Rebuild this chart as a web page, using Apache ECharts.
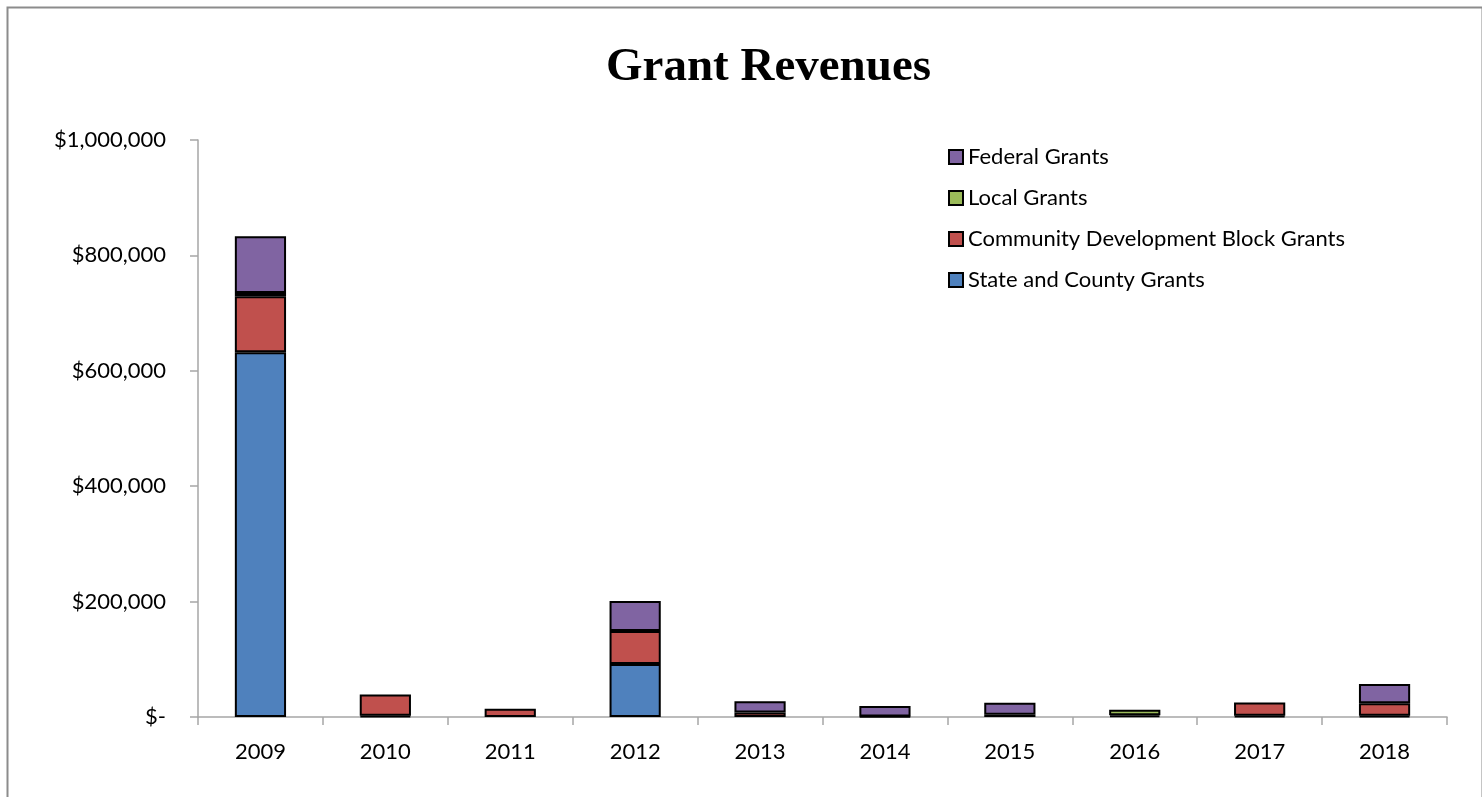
<!DOCTYPE html>
<html>
<head>
<meta charset="utf-8">
<script src="https://cdn.jsdelivr.net/npm/echarts@6/dist/echarts.min.js"></script>
<style>
  html, body { margin: 0; padding: 0; background: #fff; }
  #chart { width: 1482px; height: 797px; }
</style>
</head>
<body>
<div id="chart"></div>
<script>
// Fiscal years on the category axis
const years = ['2009', '2010', '2011', '2012', '2013', '2014', '2015', '2016', '2017', '2018'];

// Grant revenue by source, in dollars ('-' = nothing received that year)
const stateCounty = [632000, 2000, '-', 92000, '-', 1000, 4000, 3000, 2000, 2000];
const cdbg        = [97000, 37000, 14500, 57000, 8000, '-', '-', '-', 23000, 22000];
const localGrants = [6000, '-', '-', '-', '-', '-', '-', 9500, '-', '-'];
const federal     = [98000, '-', '-', 52000, 19500, 18000, 20500, '-', '-', 33000];

// Value-axis tick settings
const yMax = 1000000;
const yStep = 200000;

const fontUI = 'Lato, "Open Sans", "Noto Sans", sans-serif';

function money(v) {
  if (v === 0) return '$-';
  return '$' + v.toLocaleString('en-US');
}

function seg(name, data, color) {
  return {
    name: name,
    type: 'bar',
    stack: 'total',
    data: data,
    barWidth: '41%',
    itemStyle: { color: color, borderColor: '#000', borderWidth: 2 }
  };
}

const chart = echarts.init(document.getElementById('chart'));
chart.setOption({
  animation: false,
  backgroundColor: '#fff',
  title: {
    text: 'Grant Revenues',
    left: 601,
    top: 39,
    textStyle: {
      fontFamily: '"Liberation Serif", "Times New Roman", serif',
      fontWeight: 'bold',
      fontSize: 47,
      color: '#000'
    }
  },
  legend: {
    orient: 'vertical',
    left: 943,
    top: 141,
    itemWidth: 14,
    itemHeight: 14,
    itemGap: 19,
    icon: 'rect',
    data: ['Federal Grants', 'Local Grants', 'Community Development Block Grants', 'State and County Grants'],
    textStyle: { fontFamily: fontUI, fontSize: 22, lineHeight: 22, color: '#000', padding: [0, 0, 0, 0] }
  },
  grid: { left: 198, right: 35, top: 140, bottom: 80, containLabel: false },
  xAxis: {
    type: 'category',
    data: years,
    boundaryGap: true,
    axisLine: { lineStyle: { color: '#a6a6a6', width: 1.5 } },
    axisTick: { show: true, length: 8, alignWithLabel: false, lineStyle: { color: '#a6a6a6', width: 1.5 } },
    axisLabel: { fontFamily: fontUI, fontSize: 22, color: '#000', margin: 24 },
    splitLine: { show: false }
  },
  yAxis: {
    type: 'value',
    min: 0,
    max: yMax,
    interval: yStep,
    axisLine: { show: true, lineStyle: { color: '#a6a6a6', width: 1.5 } },
    axisTick: { show: true, length: 8, lineStyle: { color: '#a6a6a6', width: 1.5 } },
    axisLabel: { fontFamily: fontUI, fontSize: 22, color: '#000', margin: 32, formatter: money },
    splitLine: { show: false }
  },
  series: [
    seg('State and County Grants', stateCounty, '#4f81bd'),
    seg('Community Development Block Grants', cdbg, '#c0504d'),
    seg('Local Grants', localGrants, '#9bbb59'),
    seg('Federal Grants', federal, '#8064a2')
  ],
  graphic: [{
    type: 'rect',
    left: 5, top: 5,
    shape: { width: 1475, height: 820 },
    style: { fill: 'none', stroke: '#8c8c8c', lineWidth: 2 },
    silent: true
  }]
});
</script>
</body>
</html>
